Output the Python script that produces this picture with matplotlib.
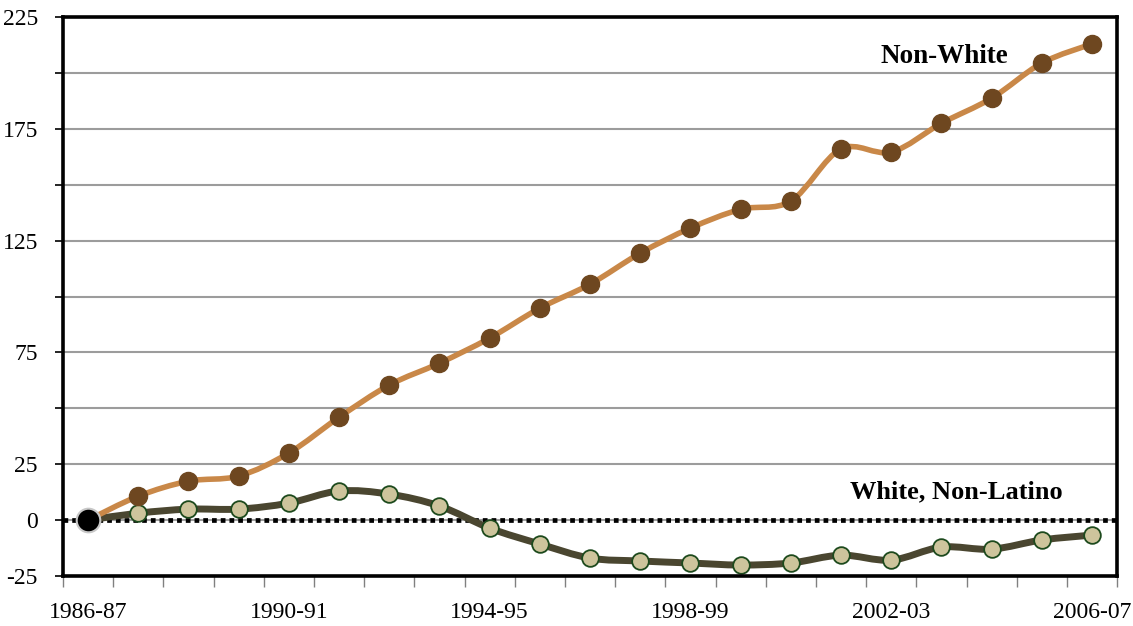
import matplotlib
matplotlib.use("Agg")
import matplotlib.pyplot as plt
import numpy as np
from matplotlib.path import Path
from matplotlib.patches import PathPatch

plt.rcParams['font.family'] = ['Liberation Serif', 'DejaVu Serif']
plt.rcParams['axes.unicode_minus'] = False

years = ['1986-87', '1987-88', '1988-89', '1989-90', '1990-91', '1991-92', '1992-93',
         '1993-94', '1994-95', '1995-96', '1996-97', '1997-98', '1998-99', '1999-00',
         '2000-01', '2001-02', '2002-03', '2003-04', '2004-05', '2005-06', '2006-07']
non_white = [0, 10.7, 17.4, 19.7, 30, 46, 60.4, 70.2, 81.4, 94.8, 105.5, 119.4, 130.6,
             139, 142.7, 166, 164.6, 177.5, 188.7, 204.4, 213]
white = [0, 3.1, 4.9, 4.9, 7.6, 13, 11.6, 6.3, -3.6, -10.7, -17, -18.3, -19.2, -20.1,
         -19.2, -15.7, -17.9, -12.1, -13, -8.9, -6.7]


def smooth_path(x, y):
    # excel-like smoothed line: catmull-rom as cubic beziers
    x = np.asarray(x, float)
    y = np.asarray(y, float)
    verts = [(x[0], y[0])]
    codes = [Path.MOVETO]
    n = len(x)
    for i in range(n - 1):
        x0, y0 = (x[i - 1], y[i - 1]) if i > 0 else (x[i], y[i])
        x3, y3 = (x[i + 2], y[i + 2]) if i + 2 < n else (x[i + 1], y[i + 1])
        c1 = (x[i] + (x[i + 1] - x0) / 6, y[i] + (y[i + 1] - y0) / 6)
        c2 = (x[i + 1] - (x3 - x[i]) / 6, y[i + 1] - (y3 - y[i]) / 6)
        verts += [c1, c2, (x[i + 1], y[i + 1])]
        codes += [Path.CURVE4] * 3
    return Path(verts, codes)


xs = np.arange(len(years))

fig = plt.figure(figsize=(11.33, 6.26), dpi=100)
ax = fig.add_axes([0.0556, 0.0799, 0.9304, 0.8929])

ax.set_xlim(-0.5, len(years) - 0.5)
ax.set_ylim(-25, 225)

for v in np.arange(0, 226, 25):
    ax.axhline(v, color='#9c9c9c', lw=1.5, zorder=1)
ax.axhline(0, color='black', lw=3.4, ls=(0, (1, 0.85)), zorder=2)

ax.add_patch(PathPatch(smooth_path(xs, white), fill=False, edgecolor='#4a4630',
                       lw=5, capstyle='round', zorder=3))
ax.add_patch(PathPatch(smooth_path(xs, non_white), fill=False, edgecolor='#c98848',
                       lw=4, capstyle='round', zorder=4))

ax.plot(xs[1:], white[1:], ls='none', marker='o', ms=12, mfc='#cdc49c',
        mec='#1d4a1d', mew=1.3, zorder=5)
ax.plot(xs[1:], non_white[1:], ls='none', marker='o', ms=13, mfc='#6e4720',
        mec='#6e4720', zorder=6)
ax.plot(xs[0], non_white[0], ls='none', marker='o', ms=17, mfc='black',
        mec='#c8c8c8', mew=1.5, zorder=7)

ax.text(17.05, 207.5, 'Non-White', fontsize=19.5, fontweight='bold',
        ha='center', va='center', zorder=8)
ax.text(17.3, 12.5, 'White, Non-Latino', fontsize=19, fontweight='bold',
        ha='center', va='center', zorder=8)

ax.set_yticks([-25, 0, 25, 75, 125, 175, 225])
ax.set_yticks(np.arange(-25, 226, 25), minor=True)
ax.tick_params(axis='y', which='both', direction='out', length=6, width=1.2,
               labelsize=17, pad=12)
ax.tick_params(axis='y', which='minor', labelleft=False)

ax.set_xticks(np.arange(-0.5, len(years), 1), minor=True)
ax.set_xticks(xs[::4])
ax.set_xticklabels(years[::4])
ax.tick_params(axis='x', which='major', length=0, labelsize=17, pad=19)
ax.tick_params(axis='x', which='minor', direction='out', length=8, width=1.0,
               color='#808080')

for s in ax.spines.values():
    s.set_linewidth(2.6)
    s.set_zorder(9)

fig.savefig('out.png', dpi=100)
